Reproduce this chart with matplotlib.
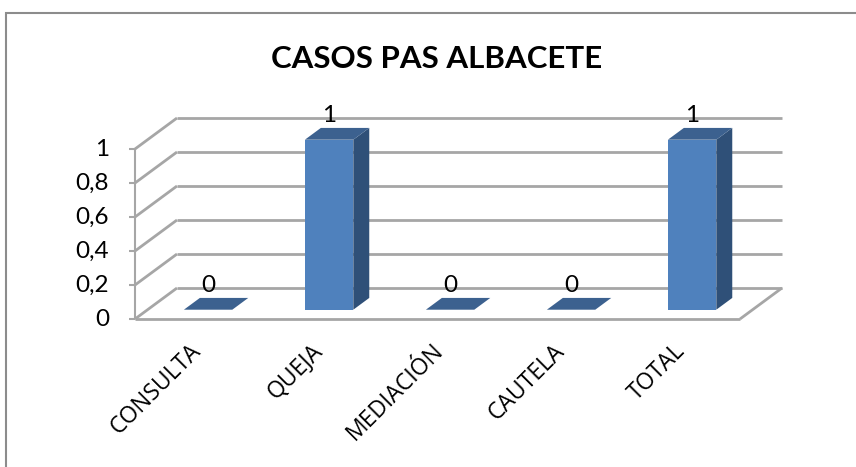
import matplotlib
matplotlib.use("Agg")
import matplotlib.pyplot as plt
from matplotlib.lines import Line2D
from matplotlib.patches import Polygon

categorias = ["CONSULTA", "QUEJA", "MEDIACIÓN", "CAUTELA", "TOTAL"]
valores = [0, 1, 0, 0, 1]
ticks = [0, 0.2, 0.4, 0.6, 0.8, 1]
tick_labels = ["0", "0,2", "0,4", "0,6", "0,8", "1"]

W, H = 856, 467
FONT = ["Lato", "DejaVu Sans"]
FONT_CAT = ["Open Sans", "DejaVu Sans"]

fig = plt.figure(figsize=(W / 100, H / 100), dpi=100, facecolor="white")

# marco exterior: solo se ve arriba y a la izquierda
fig.add_artist(Line2D([6 / W, 6 / W, 1], [0, 1 - 12.5 / H, 1 - 12.5 / H], transform=fig.transFigure,
                      color="#8c8c8c", linewidth=1.5, solid_joinstyle="miter"))

# el eje ocupa el plano frontal de la caja 3D
ax = fig.add_axes([135 / W, 1 - 319 / H, 605 / W, 170 / H])
ax.set_xlim(0, 5)
ax.set_ylim(0, 1)
ax.axis("off")

# fondo de la caja en pixeles, pasado a unidades de datos
DX = 42 / 121
DY = 31 / 170


def proj(x, y, d):
    return (x + d * DX, y + d * DY)


def linea(p, q, color="#a6a6a6", lw=2.0, z=1):
    ax.plot([p[0], q[0]], [p[1], q[1]], color=color, lw=lw, zorder=z,
            clip_on=False, solid_capstyle="butt")


# paredes y suelo
for t in ticks:
    linea(proj(0, t, 0), proj(0, t, 1))
    linea(proj(0, t, 1), proj(5, t, 1))
    linea((-0.05, t), (0, t), lw=1.5)
linea((0, 0), (0, 1), lw=1.5)
linea((0, 0), (5, 0))
linea(proj(5, 0, 0), proj(5, 0, 1))

# barras
ANCHO = 0.4
D0, D1 = 0.30, 0.68
for i, v in enumerate(valores):
    x0 = i + 0.5 - ANCHO / 2
    x1 = x0 + ANCHO
    frente = [proj(x0, 0, D0), proj(x1, 0, D0), proj(x1, v, D0), proj(x0, v, D0)]
    lado = [proj(x1, 0, D0), proj(x1, 0, D1), proj(x1, v, D1), proj(x1, v, D0)]
    tapa = [proj(x0, v, D0), proj(x1, v, D0), proj(x1, v, D1), proj(x0, v, D1)]
    if v > 0:
        ax.add_patch(Polygon(frente, facecolor="#4f81bd", edgecolor="none", zorder=3, clip_on=False))
        ax.add_patch(Polygon(lado, facecolor="#2f5078", edgecolor="none", zorder=3, clip_on=False))
    ax.add_patch(Polygon(tapa, facecolor="#3c618f", edgecolor="none", zorder=3, clip_on=False))
    cx, cy = proj(i + 0.5, v, D0)
    ax.annotate(str(v), (cx, cy), xytext=(0, 18), textcoords="offset pixels", ha="center", va="baseline",
                fontsize=17.5, family=FONT, color="black", zorder=5, annotation_clip=False)

# etiquetas de los ejes
for t, lab in zip(ticks, tick_labels):
    ax.annotate(lab, (0, t), xytext=(-26, 0), textcoords="offset pixels", ha="right", va="center",
                fontsize=17.5, family=FONT, color="black", annotation_clip=False)
for i, c in enumerate(categorias):
    ax.annotate(c, (i + 0.5, 0), xytext=(-6, -20), textcoords="offset pixels", ha="right", va="top",
                rotation=45, rotation_mode="anchor", fontsize=16.5, family=FONT_CAT, color="black",
                annotation_clip=False)

fig.text(437 / W, 1 - 59 / H, "CASOS PAS ALBACETE", ha="center", va="center",
         fontsize=22.5, fontweight="bold", family=FONT, color="black")

fig.savefig("out.png", dpi=100)
